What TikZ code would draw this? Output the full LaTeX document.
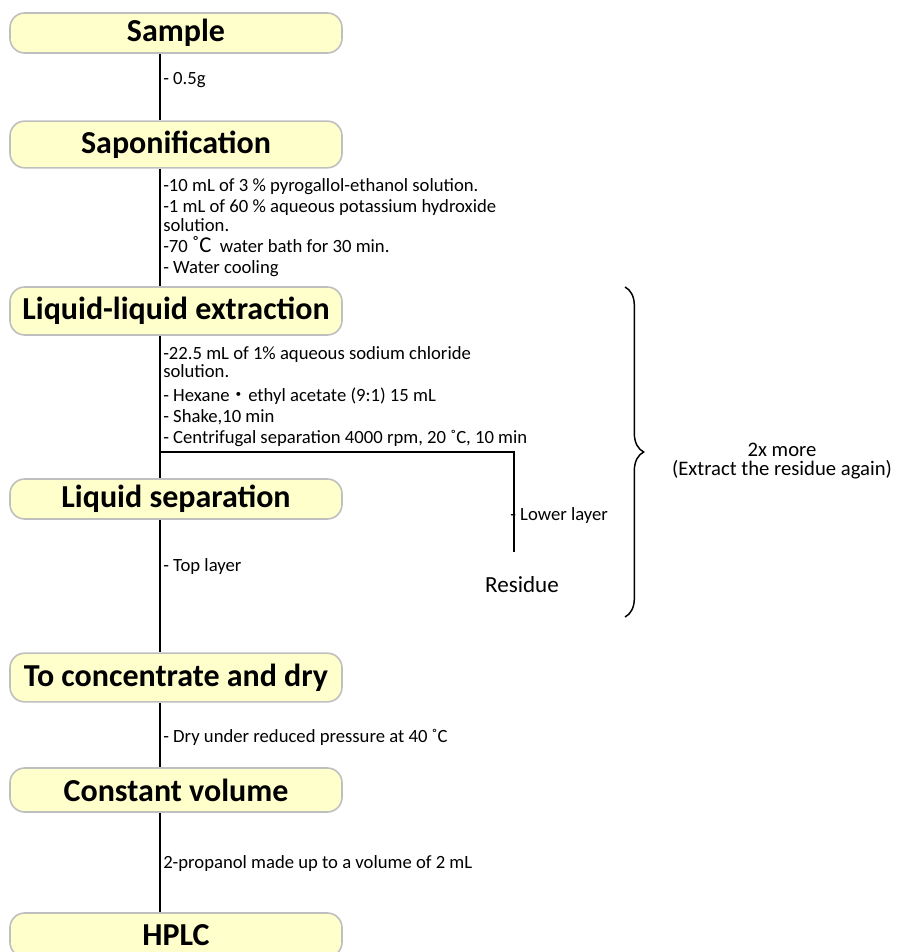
\documentclass[tikz,border=0pt]{standalone}
\usepackage{fontspec}
\setmainfont{Carlito}
\newfontfamily\cjk{Noto Sans CJK JP}
\usetikzlibrary{positioning,decorations.pathreplacing}
\definecolor{boxfill}{RGB}{255,255,204}
\definecolor{boxline}{RGB}{191,191,191}

\begin{document}
\begin{tikzpicture}[x=0.75pt,y=-0.75pt,
		stagebox/.style={draw=boxline,fill=boxfill,line width=1.2pt,rounded corners=11pt,minimum width=249pt,inner sep=0pt,font=\fontsize{24}{28}\selectfont\bfseries},
		note/.style={anchor=west,inner sep=0pt,align=left,font=\fontsize{14}{15.75}\selectfont},
		flow/.style={line width=1.1pt}]
			\useasboundingbox (0,0) rectangle (898,952);
			\node[stagebox,minimum height=30pt] (sample) at (176,33) {Sample};
			\node[stagebox,minimum height=35pt] (sapo) at (176,144.5) {Saponification};
			\node[stagebox,minimum height=36pt] (lle) at (176,311) {Liquid-liquid extraction};
			\node[stagebox,minimum height=30pt] (lsep) at (176,499) {Liquid separation};
			\node[stagebox,minimum height=36.5pt] (conc) at (176,677.5) {To concentrate and dry};
			\node[stagebox,minimum height=33pt] (const) at (176,790) {Constant volume};
			\node[stagebox,minimum height=33pt] (hplc) at (176,935) {HPLC};
			\coordinate (axis) at (160,0);
			\draw[flow] (sample.south -| axis) -- (sapo.north -| axis);
			\draw[flow] (sapo.south -| axis) -- (lle.north -| axis);
			\draw[flow] (lle.south -| axis) -- (lsep.north -| axis);
			\draw[flow] (lsep.south -| axis) -- (conc.north -| axis);
			\draw[flow] (conc.south -| axis) -- (const.north -| axis);
			\draw[flow] (const.south -| axis) -- (hplc.north -| axis);
			\node[note] (weight) at (163,80) {- 0.5g};
			\node[note] (saponotes) at (163,227.5) {-10 mL of 3 \% pyrogallol-ethanol solution.\\-1 mL of 60 \% aqueous potassium hydroxide\\[-1pt]solution.\\-70 {\fontsize{17}{15.75}\selectfont ˚C}\ \ water bath for 30 min.\\- Water cooling};
			\node[note] (llenotes) at (163,396.5) {-22.5 mL of 1\% aqueous sodium chloride\\[-2pt]solution.\\[2pt]- Hexane{\cjk ・}ethyl acetate (9:1) 15 mL\\- Shake,10 min\\- Centrifugal separation 4000 rpm, 20 ˚C, 10 min};
			\coordinate (split) at (160,452);
			\coordinate (lowend) at (514,552);
			\draw[flow] (split) -| (lowend);
			\node[note] (lower) at (510,516) {- Lower layer};
			\node[inner sep=0pt,font=\fontsize{17.3}{20}\selectfont] (residue) at (522,585) {Residue};
			\node[note] (top) at (163,567) {- Top layer};
			\node[note] (dry) at (163,737) {- Dry under reduced pressure at 40 ˚C};
			\node[note] (volume) at (163,864) {2-propanol made up to a volume of 2 mL};
			\coordinate (bracetop) at (625,287);
			\coordinate (bracebot) at (625,617);
			\draw[line width=1.1pt,decorate,decoration={brace,amplitude=14pt}] (bracetop) -- (bracebot);
			\node[inner sep=0pt,align=center,font=\fontsize{15.5}{14.5}\selectfont] (repeat) at (782,461) {2x more\\(Extract the residue again)};
		\end{tikzpicture}
\end{document}
